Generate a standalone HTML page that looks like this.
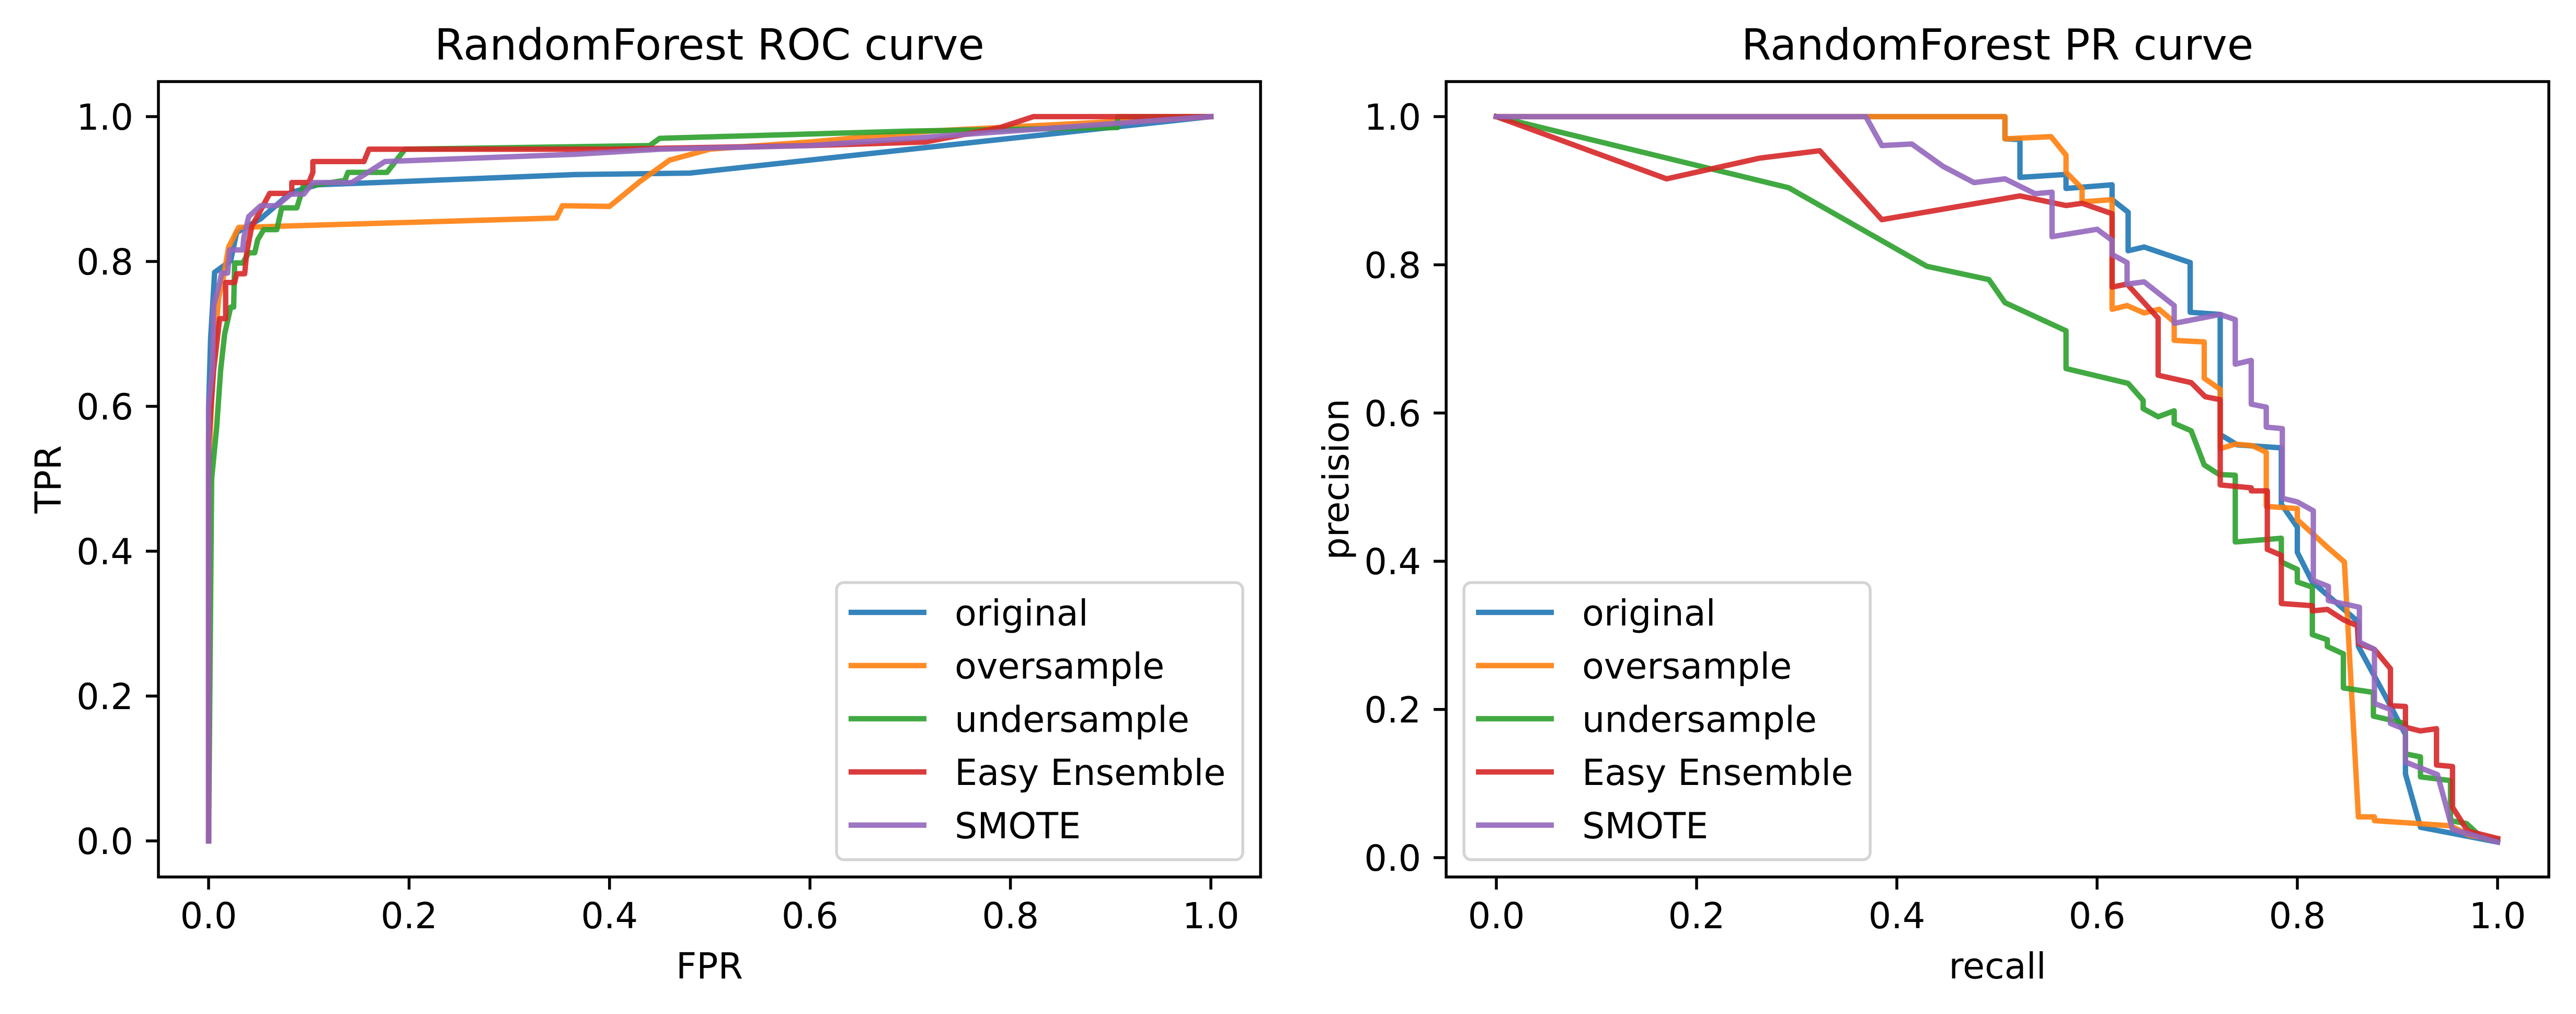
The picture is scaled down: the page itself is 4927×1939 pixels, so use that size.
<!DOCTYPE html>
<html><head><meta charset="utf-8"><style>
html,body{margin:0;padding:0;background:#fff}
svg{display:block}
text{font-family:"DejaVu Sans","Liberation Sans",sans-serif;fill:#000}
</style></head><body>
<svg id="fig" xmlns="http://www.w3.org/2000/svg" width="4927" height="1939" viewBox="0 0 4927 1939">
<rect width="4927" height="1939" fill="#fff"/>
</svg>
<script>
// ===== Data =====
const seriesNames = ["original","oversample","undersample","Easy Ensemble","SMOTE"];
const seriesColors = ["#1f77b4","#ff7f0e","#2ca02c","#d62728","#9467bd"];
const tickValues = [0,0.2,0.4,0.6,0.8,1.0];
const tickLabels = ["0.0","0.2","0.4","0.6","0.8","1.0"];

// ROC curves
const rocFprOriginal = [0,0,0.002,0.006,0.022,0.028,0.052,0.082,0.109,0.169,0.366,0.48,1];
const rocTprOriginal = [0,0.6,0.693,0.785,0.801,0.840,0.859,0.895,0.906,0.909,0.920,0.922,1];
const rocFprOversample = [0,0,0.004,0.01,0.015,0.02,0.03,0.347,0.353,0.40,0.43,0.46,0.5,0.6,0.72,1];
const rocTprOversample = [0,0.5,0.65,0.75,0.78,0.82,0.847,0.860,0.877,0.876,0.91,0.94,0.955,0.965,0.98,1];
const rocFprUndersample = [0,0.003,0.008,0.012,0.016,0.022,0.025,0.026,0.034,0.040,0.046,0.049,0.055,0.068,0.073,0.088,0.092,0.094,0.136,0.139,0.178,0.196,0.44,0.45,0.7,0.907,0.907,1];
const rocTprUndersample = [0,0.5,0.57,0.65,0.70,0.737,0.737,0.798,0.798,0.812,0.812,0.830,0.844,0.844,0.874,0.874,0.892,0.903,0.912,0.923,0.923,0.955,0.96,0.97,0.98,0.985,1,1];
const rocFprEasy = [0,0,0.005,0.011,0.017,0.017,0.026,0.028,0.036,0.038,0.043,0.061,0.083,0.083,0.100,0.104,0.104,0.155,0.160,0.40,0.6,0.715,0.79,0.823,1];
const rocTprEasy = [0,0.55,0.65,0.721,0.721,0.771,0.771,0.783,0.783,0.812,0.848,0.894,0.894,0.909,0.909,0.923,0.938,0.938,0.955,0.955,0.96,0.965,0.985,1,1];
const rocFprSmote = [0,0,0.004,0.005,0.008,0.011,0.013,0.019,0.021,0.034,0.035,0.040,0.052,0.068,0.082,0.095,0.104,0.143,0.176,0.366,0.45,0.6,0.9,1];
const rocTprSmote = [0,0.6,0.655,0.739,0.754,0.771,0.784,0.784,0.816,0.816,0.832,0.862,0.877,0.877,0.893,0.893,0.909,0.909,0.938,0.948,0.955,0.96,0.99,1];

// PR curves
const prRecallOriginal = [0,0.508,0.508,0.523,0.523,0.569,0.569,0.615,0.615,0.631,0.631,0.647,0.693,0.693,0.723,0.723,0.740,0.784,0.784,0.800,0.800,0.815,0.861,0.861,0.891,0.908,0.908,0.923,1.0];
const prPrecOriginal = [1,1,0.970,0.969,0.918,0.922,0.903,0.908,0.888,0.871,0.819,0.824,0.803,0.736,0.733,0.571,0.557,0.553,0.477,0.446,0.412,0.372,0.318,0.285,0.210,0.166,0.113,0.041,0.021];
const prRecallOversample = [0,0.508,0.508,0.554,0.569,0.569,0.585,0.585,0.615,0.615,0.630,0.647,0.662,0.677,0.677,0.707,0.707,0.723,0.723,0.738,0.755,0.769,0.769,0.800,0.800,0.830,0.847,0.861,0.877,0.877,0.953,0.972,1.0];
const prPrecOversample = [1,1,0.970,0.973,0.948,0.925,0.903,0.885,0.888,0.740,0.745,0.735,0.740,0.723,0.698,0.696,0.647,0.632,0.552,0.558,0.556,0.547,0.474,0.471,0.456,0.419,0.399,0.055,0.055,0.050,0.043,0.030,0.024];
const prRecallUndersample = [0,0.292,0.430,0.492,0.508,0.569,0.569,0.631,0.646,0.646,0.661,0.677,0.677,0.694,0.707,0.722,0.738,0.738,0.784,0.784,0.800,0.800,0.815,0.815,0.830,0.830,0.846,0.846,0.876,0.876,0.908,0.908,0.923,0.923,0.953,0.953,0.969,0.985,1.0];
const prPrecUndersample = [1,0.904,0.798,0.780,0.749,0.711,0.660,0.640,0.617,0.606,0.595,0.603,0.586,0.576,0.530,0.517,0.516,0.426,0.431,0.399,0.389,0.372,0.365,0.301,0.294,0.285,0.275,0.229,0.223,0.191,0.181,0.140,0.136,0.109,0.104,0.050,0.046,0.026,0.024];
const prRecallEasy = [0,0.170,0.263,0.323,0.385,0.523,0.569,0.585,0.615,0.615,0.630,0.661,0.661,0.694,0.708,0.723,0.723,0.754,0.754,0.770,0.770,0.784,0.784,0.815,0.815,0.830,0.846,0.860,0.861,0.877,0.893,0.893,0.908,0.908,0.923,0.939,0.939,0.955,0.955,0.970,1.0];
const prPrecEasy = [1,0.916,0.944,0.954,0.861,0.893,0.880,0.883,0.869,0.770,0.774,0.728,0.651,0.641,0.622,0.618,0.503,0.499,0.495,0.495,0.416,0.408,0.343,0.340,0.333,0.335,0.321,0.313,0.289,0.281,0.255,0.205,0.204,0.176,0.171,0.174,0.125,0.123,0.068,0.036,0.026];
const prRecallSmote = [0,0.369,0.385,0.415,0.446,0.477,0.508,0.538,0.555,0.555,0.600,0.615,0.615,0.630,0.630,0.647,0.677,0.677,0.723,0.738,0.738,0.754,0.754,0.769,0.769,0.785,0.785,0.800,0.816,0.816,0.831,0.831,0.862,0.862,0.877,0.877,0.893,0.893,0.908,0.908,0.940,0.955,1.0];
const prPrecSmote = [1,1,0.961,0.963,0.933,0.911,0.916,0.896,0.898,0.838,0.848,0.833,0.814,0.803,0.774,0.777,0.745,0.721,0.733,0.726,0.666,0.671,0.612,0.608,0.581,0.579,0.485,0.480,0.468,0.374,0.366,0.347,0.338,0.291,0.281,0.208,0.200,0.181,0.173,0.129,0.112,0.038,0.021];

const rocX = [rocFprOriginal,rocFprOversample,rocFprUndersample,rocFprEasy,rocFprSmote];
const rocY = [rocTprOriginal,rocTprOversample,rocTprUndersample,rocTprEasy,rocTprSmote];
const prX = [prRecallOriginal,prRecallOversample,prRecallUndersample,prRecallEasy,prRecallSmote];
const prY = [prPrecOriginal,prPrecOversample,prPrecUndersample,prPrecEasy,prPrecSmote];

// ===== Drawing =====
const NS = "http://www.w3.org/2000/svg";
const svg = document.getElementById("fig");
function mk(tag, attrs, parent){
  const e = document.createElementNS(NS, tag);
  for (const k in attrs) e.setAttribute(k, attrs[k]);
  (parent||svg).appendChild(e);
  return e;
}

const panels = [
  {key:"roc", left:303, right:2411, top:156, bottom:1677, x0:399, x1:2316, y0:1608, y1:223,
   title:"RandomForest ROC curve", xlabel:"FPR", ylabel:"TPR", xs:rocX, ys:rocY,
   ylabX:116, legendX:1600},
  {key:"pr", left:2766, right:4875, top:156, bottom:1677, x0:2862, x1:4777, y0:1640, y1:223,
   title:"RandomForest PR curve", xlabel:"recall", ylabel:"precision", xs:prX, ys:prY,
   ylabX:2579, legendX:2800}
];

panels.forEach(function(P){
  const sx = v => P.x0 + v*(P.x1-P.x0);
  const sy = v => P.y0 + v*(P.y1-P.y0);
  const g = mk("g", {});
  
  

  const defs = mk("defs", {}, g);
  const cp = mk("clipPath", {id:"clip-"+P.key}, defs);
  mk("rect", {x:P.left, y:P.top, width:P.right-P.left, height:P.bottom-P.top}, cp);

  const lines = mk("g", {"clip-path":"url(#clip-"+P.key+")"}, g);
  
  
  for (let s=0; s<seriesNames.length; s++){
    const xs = P.xs[s], ys = P.ys[s];
    let d = "";
    for (let i=0;i<xs.length;i++) d += (i?"L":"M") + sx(xs[i]).toFixed(1) + " " + sy(ys[i]).toFixed(1);
    const p = mk("path", {d:d, fill:"none", stroke:seriesColors[s], "stroke-width":10.3, "stroke-opacity":0.9, "stroke-linejoin":"round", "stroke-linecap":"square"}, lines);
    
    
  }

  // spines
  const fr = mk("rect", {x:P.left, y:P.top, width:P.right-P.left, height:P.bottom-P.top, fill:"none", stroke:"#000", "stroke-width":5.5}, g);
  
  

  // ticks
  for (let i=0;i<tickValues.length;i++){
    const X = sx(tickValues[i]);
    const tx = mk("line", {x1:X, x2:X, y1:P.bottom, y2:P.bottom+24, stroke:"#000", "stroke-width":5.5}, g);
    
    
    const lx = mk("text", {x:X, y:1775, "font-size":68.4, "text-anchor":"middle"}, g);
    lx.textContent = tickLabels[i];
    
    
    const Y = sy(tickValues[i]);
    const ty = mk("line", {x1:P.left-24, x2:P.left, y1:Y, y2:Y, stroke:"#000", "stroke-width":5.5}, g);
    
    
    const ly = mk("text", {x:P.left-48, y:Y+25, "font-size":68.4, "text-anchor":"end"}, g);
    ly.textContent = tickLabels[i];
    
    
  }

  const cx = (P.left+P.right)/2, cy = (P.top+P.bottom)/2;
  const t = mk("text", {x:cx, y:114, "font-size":82, "text-anchor":"middle"}, g);
  t.textContent = P.title;
  
  
  const xl = mk("text", {x:cx, y:1871, "font-size":68.4, "text-anchor":"middle"}, g);
  xl.textContent = P.xlabel;
  
  
  const yl = mk("text", {x:P.ylabX, y:cy, "font-size":68.4, "text-anchor":"middle", transform:"rotate(-90 "+P.ylabX+" "+cy+")"}, g);
  yl.textContent = P.ylabel;
  
  

  // legend
  const lg = mk("g", {}, g);
  
  
  const lb = mk("rect", {x:P.legendX, y:1114, width:777, height:530, rx:14, ry:14, fill:"#fff", "fill-opacity":0.8, stroke:"#d4d4d4", "stroke-width":5.5}, lg);
  
  
  for (let s=0;s<seriesNames.length;s++){
    const ry = 1171 + s*101.7;
    const e = mk("g", {}, lg);
    
    
    const h = mk("line", {x1:P.legendX+23, x2:P.legendX+172, y1:ry, y2:ry, stroke:seriesColors[s], "stroke-width":10.3, "stroke-opacity":0.9}, e);
    
    
    const tx = mk("text", {x:P.legendX+226, y:ry+25, "font-size":68.4}, e);
    tx.textContent = seriesNames[s];
    
    
  }
});
</script>
</body></html>
